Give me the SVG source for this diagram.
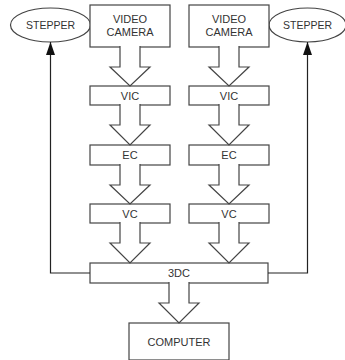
<svg xmlns="http://www.w3.org/2000/svg" width="345" height="360" viewBox="0 0 345 360">
<style>
.b{fill:#fff;stroke:#444;stroke-width:1.2}
.t{font-family:"Liberation Sans",Arial,sans-serif;font-size:11px;fill:#333;text-anchor:middle}
.s{font-size:10.5px}
.ba{fill:#fff;stroke:#444;stroke-width:1.2;stroke-linejoin:miter}
.ln{fill:none;stroke:#222;stroke-width:1.2}
</style>
<defs>
<marker id="ah" viewBox="0 0 13 9" refX="13" refY="4.5" markerWidth="13" markerHeight="9" markerUnits="userSpaceOnUse" orient="auto">
<path d="M0,0 L13,4.5 L0,9 Z" fill="#111"/>
</marker>
</defs>
<rect width="345" height="360" fill="#fff"/>
<g id="stepper-left"><ellipse class="b" cx="50.5" cy="25" rx="40" ry="17"/><text class="t s" x="50.5" y="29">STEPPER</text></g>
<g id="stepper-right"><ellipse class="b" cx="307.5" cy="25" rx="38.5" ry="17"/><text class="t s" x="307.5" y="29">STEPPER</text></g>
<g id="camera-left"><rect class="b" x="90" y="5" width="80" height="42"/><text class="t" x="130" y="23">VIDEO</text><text class="t" x="130" y="36">CAMERA</text></g>
<g id="camera-right"><rect class="b" x="189" y="5" width="80" height="42"/><text class="t" x="229" y="23">VIDEO</text><text class="t" x="229" y="36">CAMERA</text></g>
<g id="vic-left"><rect class="b" x="90" y="86" width="80" height="19"/><text class="t" x="130" y="99.5">VIC</text></g>
<g id="vic-right"><rect class="b" x="189" y="86" width="80" height="19"/><text class="t" x="229" y="99.5">VIC</text></g>
<g id="ec-left"><rect class="b" x="90" y="145" width="80" height="20"/><text class="t" x="130" y="159">EC</text></g>
<g id="ec-right"><rect class="b" x="189" y="145" width="80" height="20"/><text class="t" x="229" y="159">EC</text></g>
<g id="vc-left"><rect class="b" x="90" y="204" width="80" height="19"/><text class="t" x="130" y="218">VC</text></g>
<g id="vc-right"><rect class="b" x="189" y="204" width="80" height="19"/><text class="t" x="229" y="218">VC</text></g>
<g id="tdc"><rect class="b" x="90" y="263" width="178" height="20"/><text class="t" x="179" y="277">3DC</text></g>
<g id="computer"><rect class="b" x="129" y="323" width="100" height="37"/><text class="t" x="179" y="346">COMPUTER</text></g>
<g id="connectors">
<path class="ba" d="M120,46 V67 H110 L130,86 L150,67 H140 V46"/>
<path class="ba" d="M219,46 V67 H209 L229,86 L249,67 H239 V46"/>
<path class="ba" d="M120,104 V125 H110 L130,145 L150,125 H140 V104"/>
<path class="ba" d="M219,104 V125 H209 L229,145 L249,125 H239 V104"/>
<path class="ba" d="M120,164 V185 H110 L130,204 L150,185 H140 V164"/>
<path class="ba" d="M219,164 V185 H209 L229,204 L249,185 H239 V164"/>
<path class="ba" d="M120,222 V243 H110 L130,263 L150,243 H140 V222"/>
<path class="ba" d="M219,222 V243 H209 L229,263 L249,243 H239 V222"/>
<path class="ba" d="M169,282 V303 H159 L179,323 L199,303 H189 V282"/>
<path class="ln" d="M90,273 H50.5 V42" marker-end="url(#ah)"/>
<path class="ln" d="M268,273 H307.5 V42" marker-end="url(#ah)"/>
</g>
</svg>
